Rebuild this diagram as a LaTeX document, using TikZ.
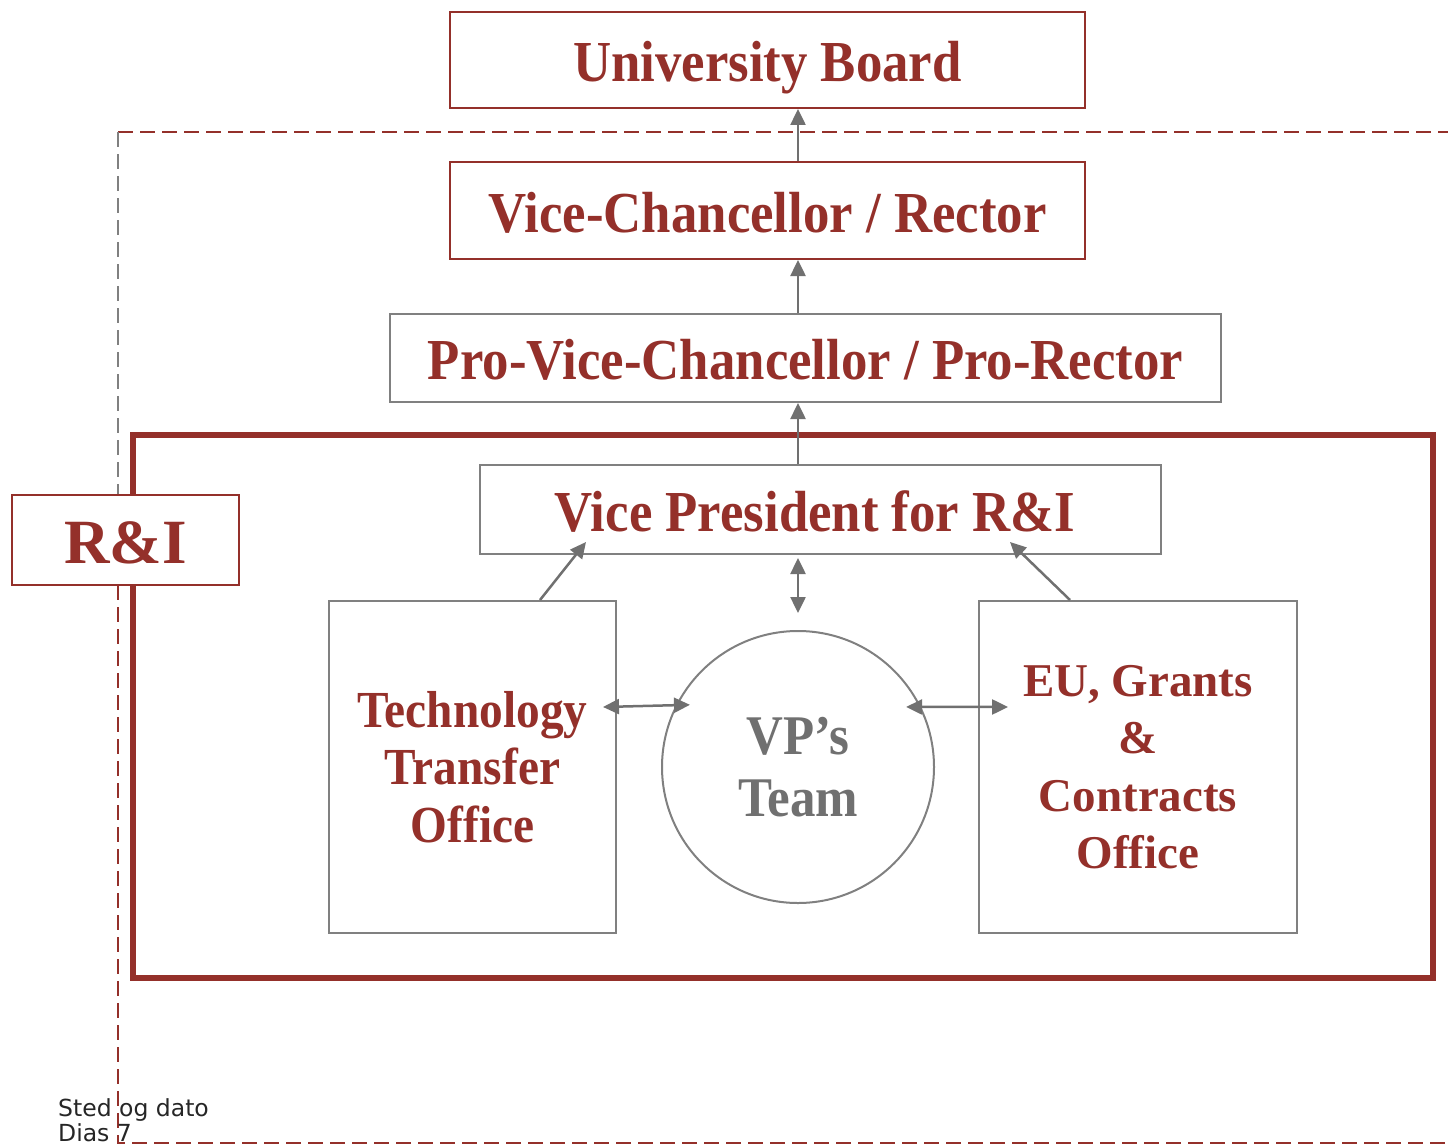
\documentclass[tikz,border=0pt]{standalone}
\usepackage{fontspec}
\setmainfont{Liberation Serif}[FakeStretch=0.91]
\newfontfamily\widefont{Liberation Serif}
\newfontfamily\footfont{DejaVu Sans}
\usetikzlibrary{arrows.meta}

\definecolor{ruby}{RGB}{148,48,42}
\definecolor{linegrey}{RGB}{112,112,112}
\definecolor{boxgrey}{RGB}{128,128,128}
\definecolor{footgrey}{RGB}{38,38,38}

\begin{document}
\begin{tikzpicture}[x=1pt, y=-1pt,
			box/.style={draw=ruby, line width=2pt, fill=white, inner sep=0pt, text=ruby,
				text height=43pt, text depth=0pt,
				font=\bfseries\fontsize{58}{64}\selectfont},
			greybox/.style={box, draw=boxgrey},
			office/.style={draw=boxgrey, line width=2pt, fill=white, inner sep=0pt, text=ruby,
				align=center, font=\bfseries\fontsize{52}{57.5}\selectfont},
			arrow/.style={-{Triangle[length=16pt,width=15pt]}, line width=2.5pt, draw=linegrey},
			twoway/.style={arrow, {Triangle[length=16pt,width=15pt]}-{Triangle[length=16pt,width=15pt]}},
			frame/.style={dash pattern=on 15pt off 7pt, line width=2pt}
			]
			\useasboundingbox (0,0) rectangle (1448,1145);
			
			% Dashed frame
			\draw[frame, draw=ruby] (118,132) -- (1448,132);
			\draw[frame, draw=boxgrey] (118,132) -- (118,495);
			\draw[frame, draw=ruby] (118,585) -- (118,1143) -- (1448,1143);
			
			% R&I unit
			\draw[ruby, line width=5.5pt] (133,435) rectangle (1433,978);
			
			% Nodes
			\node[box, minimum width=635pt, minimum height=96pt] (board) at (767.5,60) {University Board};
			\node[box, minimum width=635pt, minimum height=97pt] (vc) at (767.5,210.5) {Vice-Chancellor / Rector};
			\node[greybox, minimum width=831pt, minimum height=88pt] (pvc) at (805.5,358) {Pro-Vice-Chancellor / Pro-Rector};
			\node[greybox, minimum width=681pt, minimum height=89pt] (vp) at (820.5,509.5) {\hspace*{-11pt}Vice President for R\&I};
			\node[box, minimum width=227pt, minimum height=90pt, text height=46pt,
				font=\widefont\bfseries\fontsize{63}{70}\selectfont] (ri) at (125.5,540) {R\&I};
			\node[office, minimum width=287pt, minimum height=332pt] (tto) at (472.5,767) {Technology\\Transfer\\Office};
			\node[office, circle, minimum size=272pt, text=linegrey,
				font=\bfseries\fontsize{56}{62}\selectfont] (team) at (798,767) {VP’s\\Team};
			\node[office, minimum width=318pt, minimum height=332pt,
				font=\widefont\bfseries\fontsize{47}{57.5}\selectfont] (eu) at (1138,767) {EU, Grants\\\&\\Contracts\\Office};
			
			% Line of reporting
			\draw[arrow] (vc.north -| team) -- (board.south -| team);
			\draw[arrow] (pvc.north -| team) -- (vc.south -| team);
			\draw[arrow] (vp.north -| team) -- (pvc.south -| team);
			
			% Offices to the VP
			\draw[arrow] ([xshift=67.5pt]tto.north) -- ([xshift=-234.5pt,yshift=13pt]vp.south);
			\draw[arrow] ([xshift=-68pt]eu.north) -- ([xshift=189.5pt,yshift=13pt]vp.south);
			
			% VP's team both ways
			\draw[twoway] ([yshift=-3pt]vp.south -| team) -- ([yshift=17pt]team.north);
			\draw[twoway] ([xshift=-14pt,yshift=60pt]tto.east) -- ([xshift=14pt]team.153.8);
			\draw[twoway] ([xshift=-15pt]team.26.2) -- ([xshift=30pt,yshift=60pt]eu.west);
			
			% Footer
			\node[anchor=base west, inner sep=0pt, text=footgrey, font=\footfont\fontsize{23.5}{27}\selectfont] (place) at (58,1116) {Sted og dato};
			\node[anchor=base west, inner sep=0pt, text=footgrey, font=\footfont\fontsize{23.5}{27}\selectfont] (slide) at (58,1141) {Dias 7};
		\end{tikzpicture}
\end{document}
